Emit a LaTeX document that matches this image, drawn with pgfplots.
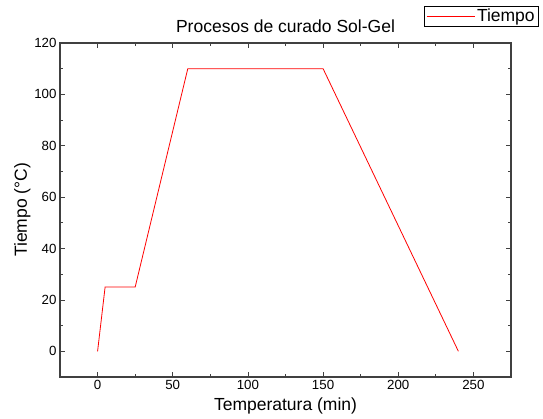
\documentclass[border=0pt]{standalone}
\usepackage{fontspec}
\setmainfont{Liberation Sans}
\usepackage{pgfplots}
\pgfplotsset{compat=1.18}
\definecolor{axgray}{HTML}{404040}

\begin{document}
\begin{tikzpicture}[x=1pt,y=1pt]
\useasboundingbox (-60,-42) rectangle (483,377);
\begin{axis}[
  at={(0,0)}, anchor=south west,
  scale only axis, width=451pt, height=334pt,
  xmin=-25, xmax=275, ymin=-10, ymax=120,
  xtick={0,50,...,250}, ytick={0,20,...,120},
  minor x tick num=1, minor y tick num=1,
  tick align=inside,
  major tick length=5pt, minor tick length=3pt,
  every tick/.style={axgray, line width=0.8pt},
  axis line style={axgray, line width=1.3pt},
  /pgf/number format/assume math mode=true,
  tick label style={font=\fontsize{13.3}{15}\selectfont},
  title={Procesos de curado Sol-Gel},
  title style={font=\fontsize{17.5}{19}\selectfont, at={(0.5,1)}, anchor=south, yshift=1pt},
  xlabel={Temperatura (min)},
  ylabel={Tiempo (°C)},
  label style={font=\fontsize{17.5}{19}\selectfont},
  xlabel style={yshift=-1pt},
  ylabel style={yshift=-3pt},
  legend style={at={(1.0621,1.1108)}, anchor=north east, draw=black, line width=0.6pt,
    font=\fontsize{17.5}{19}\selectfont, inner ysep=1pt, inner xsep=2pt},
  legend image code/.code={%
    \path (-8pt,0pt) -- (0pt,0pt);
    \draw[mark repeat=2, mark phase=2, #1] plot coordinates {(0pt,0pt) (20pt,0pt) (40pt,0pt)};},
]
\addplot[color=red, line width=0.8pt] coordinates {(0,0) (5,25) (25,25) (60,110) (150,110) (240,0)};
\addlegendentry{Tiempo}
\end{axis}
\end{tikzpicture}
\end{document}
